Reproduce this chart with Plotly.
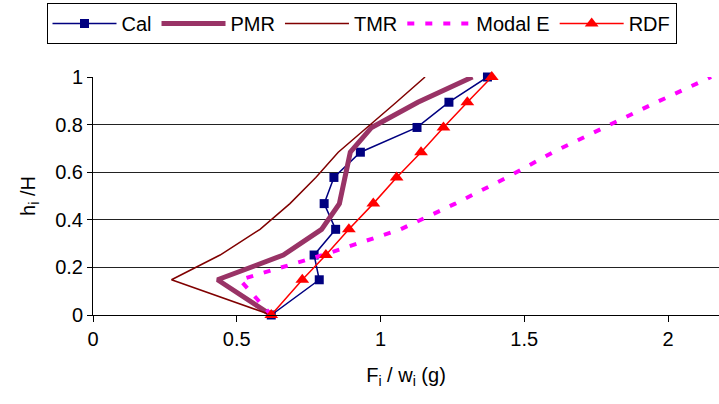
import plotly.graph_objects as go

# Heights (h_i / H)
heights = [0, 0.148, 0.252, 0.36, 0.468, 0.578, 0.684, 0.788, 0.894, 1.0]

# Series values F_i / w_i (g)
cal = [0.62, 0.787, 0.769, 0.844, 0.804, 0.838, 0.930, 1.127, 1.238, 1.372]
pmr = [0.62, 0.433, 0.662, 0.795, 0.857, 0.875, 0.895, 0.969, 1.130, 1.320]
tmr = [0.62, 0.273, 0.442, 0.581, 0.685, 0.775, 0.853, 0.955, 1.055, 1.155]
modal_e = [0.62, 0.511, 0.80, 1.07, 1.26, 1.44, 1.60, 1.775, 1.96, 2.15]
rdf = [0.62, 0.728, 0.810, 0.890, 0.975, 1.056, 1.141, 1.219, 1.302, 1.387]

x_ticks = [0, 0.5, 1, 1.5, 2]
y_ticks = [0, 0.2, 0.4, 0.6, 0.8, 1]

FONT = "Liberation Sans, Arial, sans-serif"
FS = 20

fig = go.Figure()
fig.add_trace(go.Scatter(x=cal, y=heights, name="Cal", mode="lines+markers",
                         line=dict(color="#000080", width=1.5),
                         marker=dict(symbol="square", size=9, color="#000080"),
                         cliponaxis=False))
fig.add_trace(go.Scatter(x=pmr, y=heights, name="PMR", mode="lines",
                         line=dict(color="#993366", width=5),
                         cliponaxis=False))
fig.add_trace(go.Scatter(x=tmr, y=heights, name="TMR", mode="lines",
                         line=dict(color="#800000", width=1.5),
                         cliponaxis=False))
fig.add_trace(go.Scatter(x=modal_e, y=heights, name="Modal E", mode="lines",
                         line=dict(color="#FF00FF", width=4, dash="7px,11px"),
                         cliponaxis=False))
fig.add_trace(go.Scatter(x=rdf, y=heights, name="RDF", mode="lines+markers",
                         line=dict(color="#FF0000", width=1.5),
                         marker=dict(symbol="triangle-up", size=12, color="#FF0000"),
                         cliponaxis=False))

fig.update_layout(
    width=719, height=404,
    margin=dict(l=93, r=0, t=77, b=89, autoexpand=False),
    paper_bgcolor="white", plot_bgcolor="white",
    font=dict(family=FONT, size=FS, color="black"),
    showlegend=True,
    legend=dict(orientation="h", xref="container", yref="container",
                x=46.5 / 719, y=1 - 3 / 404, xanchor="left", yanchor="top",
                bordercolor="black", borderwidth=1, bgcolor="white",
                font=dict(family=FONT, size=FS), itemwidth=64,
                tracegroupgap=0),
    xaxis=dict(range=[0, 626 / 287.5], tickvals=x_ticks,
               ticktext=[str(v) for v in x_ticks],
               showgrid=False, zeroline=False, showline=True,
               linecolor="black", linewidth=1, ticks="outside", ticklen=6,
               tickcolor="black", tickfont=dict(size=FS),
               title=dict(text="F<sub>i</sub> / w<sub>i</sub> (g)", standoff=18,
                          font=dict(size=FS))),
    yaxis=dict(range=[0, 1], tickvals=y_ticks,
               ticktext=[("%g" % v) for v in y_ticks],
               showgrid=True, gridcolor="#222222", gridwidth=1, zeroline=False,
               showline=True, linecolor="black", linewidth=1,
               ticks="outside", ticklen=5, tickcolor="black",
               tickfont=dict(size=FS),
               title=dict(text="h<sub>i</sub> /H", standoff=14,
                          font=dict(size=FS))),
)

fig.write_html("out.html",
               config={"displayModeBar": False},
               post_script="document.body.style.margin='0';document.body.style.padding='0';")
